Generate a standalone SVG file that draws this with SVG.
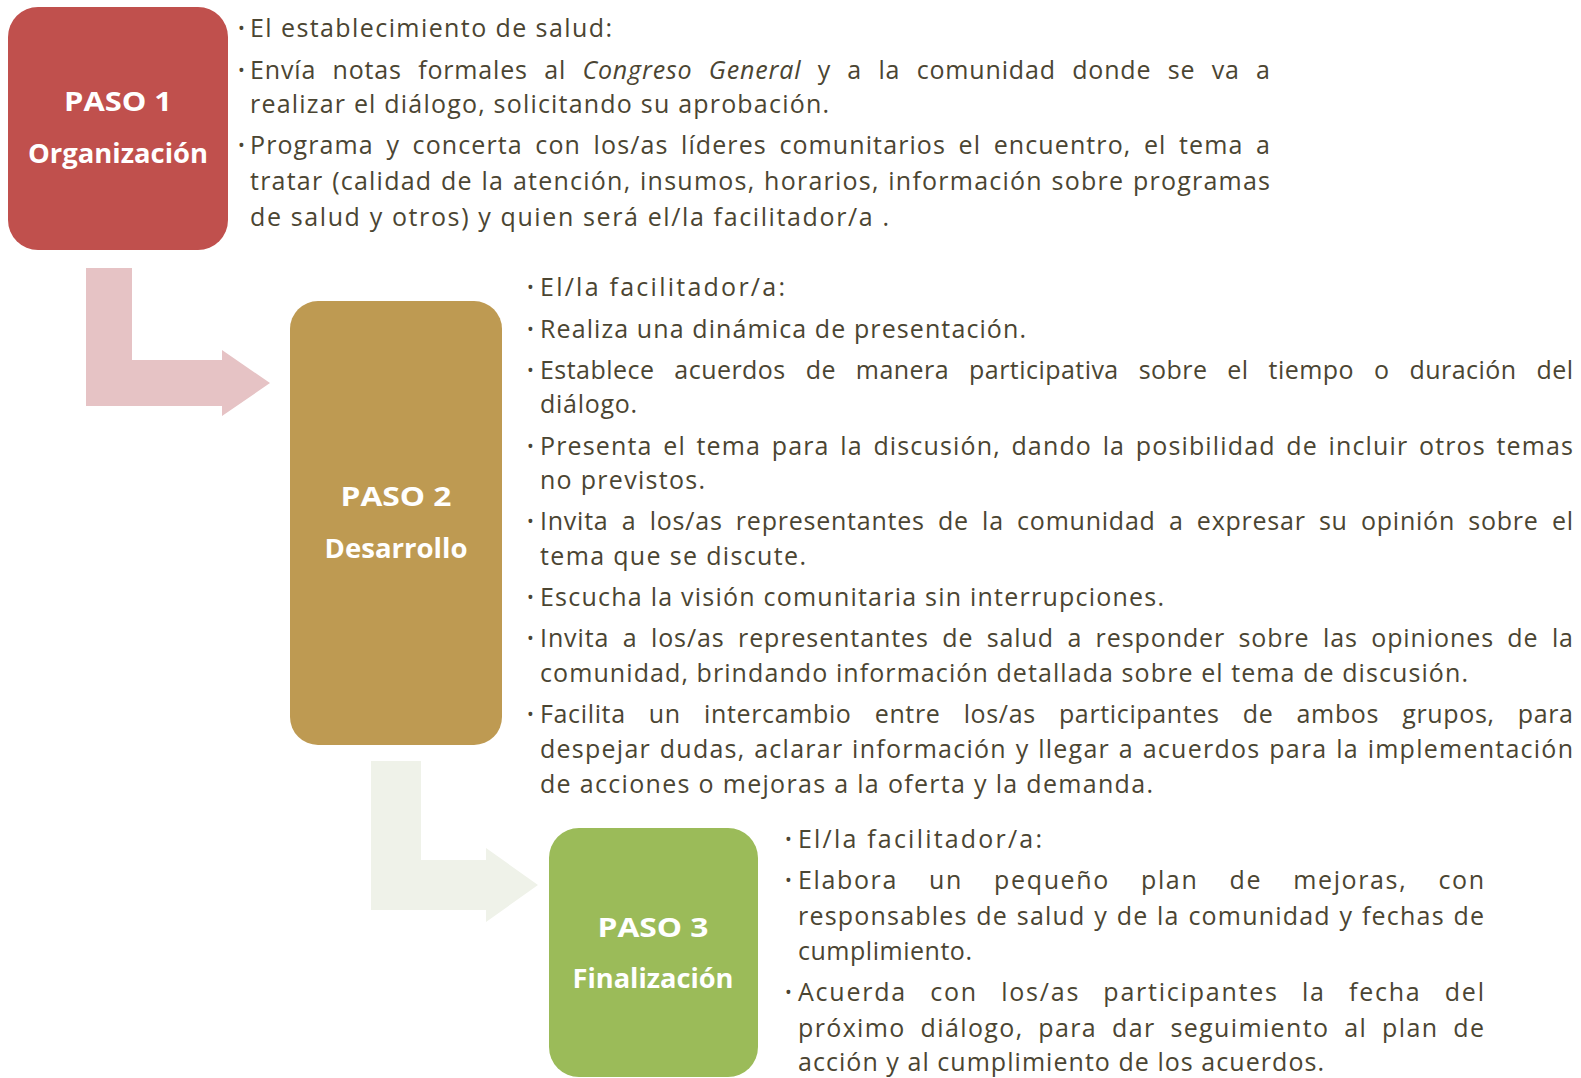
<svg xmlns="http://www.w3.org/2000/svg" width="1581" height="1078" viewBox="0 0 1581 1078">
<style>
.t{font-family:"Open Sans","Liberation Sans",sans-serif;font-size:25px;fill:#4B4532}
.b{font-family:"Open Sans","Liberation Sans",sans-serif;font-size:18px;fill:#4B4532}
.lbl{font-family:"Open Sans","Liberation Sans",sans-serif;font-size:26px;font-weight:bold;fill:#FFFFFF;text-anchor:middle}
</style>
<rect width="1581" height="1078" fill="#FFFFFF"/>
<g id="connectors">
<polygon points="86,268 132,268 132,360 222,360 222,350 270,383 222,416 222,406 86,406" fill="#E6C3C5"/>
<polygon points="371,761 421,761 421,860 486,860 486,848 538,885 486,922 486,910 371,910" fill="#EFF2E9"/>
</g>
<g id="paso1">
<rect x="8" y="7" width="220" height="243" rx="30" fill="#C0504D"/>
<text class="lbl" x="118" y="111" textLength="108" lengthAdjust="spacingAndGlyphs">PASO 1</text>
<text class="lbl" x="118" y="163" textLength="180" lengthAdjust="spacingAndGlyphs">Organización</text>
</g>
<g id="paso2">
<rect x="290" y="301" width="212" height="444" rx="28" fill="#BE9A52"/>
<text class="lbl" x="396" y="506" textLength="111" lengthAdjust="spacingAndGlyphs">PASO 2</text>
<text class="lbl" x="396" y="558" textLength="143" lengthAdjust="spacingAndGlyphs">Desarrollo</text>
</g>
<g id="paso3">
<rect x="549" y="828" width="209" height="249" rx="30" fill="#9BBB59"/>
<text class="lbl" x="653" y="937" textLength="111" lengthAdjust="spacingAndGlyphs">PASO 3</text>
<text class="lbl" x="653" y="988" textLength="161" lengthAdjust="spacingAndGlyphs">Finalización</text>
</g>
<g id="texto1">
<text class="b" x="238" y="35">•</text>
<text class="t" x="250" y="37" textLength="362" lengthAdjust="spacing">El establecimiento de salud:</text>
<text class="b" x="238" y="77">•</text>
<text class="t" x="250" y="79" textLength="1020" lengthAdjust="spacing" word-spacing="9">Envía notas formales al <tspan font-style="italic">Congreso General</tspan> y a la comunidad donde se va a</text>
<text class="t" x="250" y="113" textLength="579" lengthAdjust="spacing">realizar el diálogo, solicitando su aprobación.</text>
<text class="b" x="238" y="152">•</text>
<text class="t" x="250" y="154" textLength="1020" lengthAdjust="spacing" word-spacing="5">Programa y concerta con los/as líderes comunitarios el encuentro, el tema a</text>
<text class="t" x="250" y="190" textLength="1020" lengthAdjust="spacing" word-spacing="1">tratar (calidad de la atención, insumos, horarios, información sobre programas</text>
<text class="t" x="250" y="226" textLength="639" lengthAdjust="spacing">de salud y otros) y quien será el/la facilitador/a .</text>
</g>
<g id="texto2">
<text class="b" x="527" y="294">•</text>
<text class="t" x="540" y="296" textLength="245" lengthAdjust="spacing">El/la facilitador/a:</text>
<text class="b" x="527" y="336">•</text>
<text class="t" x="540" y="338" textLength="486" lengthAdjust="spacing">Realiza una dinámica de presentación.</text>
<text class="b" x="527" y="377">•</text>
<text class="t" x="540" y="379" textLength="1033" lengthAdjust="spacing" word-spacing="13">Establece acuerdos de manera participativa sobre el tiempo o duración del</text>
<text class="t" x="540" y="413" textLength="97" lengthAdjust="spacing">diálogo.</text>
<text class="b" x="527" y="453">•</text>
<text class="t" x="540" y="455" textLength="1033" lengthAdjust="spacing" word-spacing="3">Presenta el tema para la discusión, dando la posibilidad de incluir otros temas</text>
<text class="t" x="540" y="489" textLength="165" lengthAdjust="spacing">no previstos.</text>
<text class="b" x="527" y="528">•</text>
<text class="t" x="540" y="530" textLength="1033" lengthAdjust="spacing" word-spacing="6">Invita a los/as representantes de la comunidad a expresar su opinión sobre el</text>
<text class="t" x="540" y="565" textLength="266" lengthAdjust="spacing">tema que se discute.</text>
<text class="b" x="527" y="604">•</text>
<text class="t" x="540" y="606" textLength="624" lengthAdjust="spacing">Escucha la visión comunitaria sin interrupciones.</text>
<text class="b" x="527" y="645">•</text>
<text class="t" x="540" y="647" textLength="1033" lengthAdjust="spacing" word-spacing="6">Invita a los/as representantes de salud a responder sobre las opiniones de la</text>
<text class="t" x="540" y="682" textLength="928" lengthAdjust="spacing">comunidad, brindando información detallada sobre el tema de discusión.</text>
<text class="b" x="527" y="721">•</text>
<text class="t" x="540" y="723" textLength="1033" lengthAdjust="spacing" word-spacing="16">Facilita un intercambio entre los/as participantes de ambos grupos, para</text>
<text class="t" x="540" y="758" textLength="1033" lengthAdjust="spacing" word-spacing="1">despejar dudas, aclarar información y llegar a acuerdos para la implementación</text>
<text class="t" x="540" y="793" textLength="613" lengthAdjust="spacing">de acciones o mejoras a la oferta y la demanda.</text>
</g>
<g id="texto3">
<text class="b" x="785" y="846">•</text>
<text class="t" x="798" y="848" textLength="244" lengthAdjust="spacing">El/la facilitador/a:</text>
<text class="b" x="785" y="887">•</text>
<text class="t" x="798" y="889" textLength="686" lengthAdjust="spacing" word-spacing="23">Elabora un pequeño plan de mejoras, con</text>
<text class="t" x="798" y="925" textLength="686" lengthAdjust="spacing" word-spacing="1">responsables de salud y de la comunidad y fechas de</text>
<text class="t" x="798" y="960" textLength="174" lengthAdjust="spacing">cumplimiento.</text>
<text class="b" x="785" y="999">•</text>
<text class="t" x="798" y="1001" textLength="686" lengthAdjust="spacing" word-spacing="15">Acuerda con los/as participantes la fecha del</text>
<text class="t" x="798" y="1037" textLength="686" lengthAdjust="spacing" word-spacing="7">próximo diálogo, para dar seguimiento al plan de</text>
<text class="t" x="798" y="1071" textLength="526" lengthAdjust="spacing">acción y al cumplimiento de los acuerdos.</text>
</g>
</svg>
